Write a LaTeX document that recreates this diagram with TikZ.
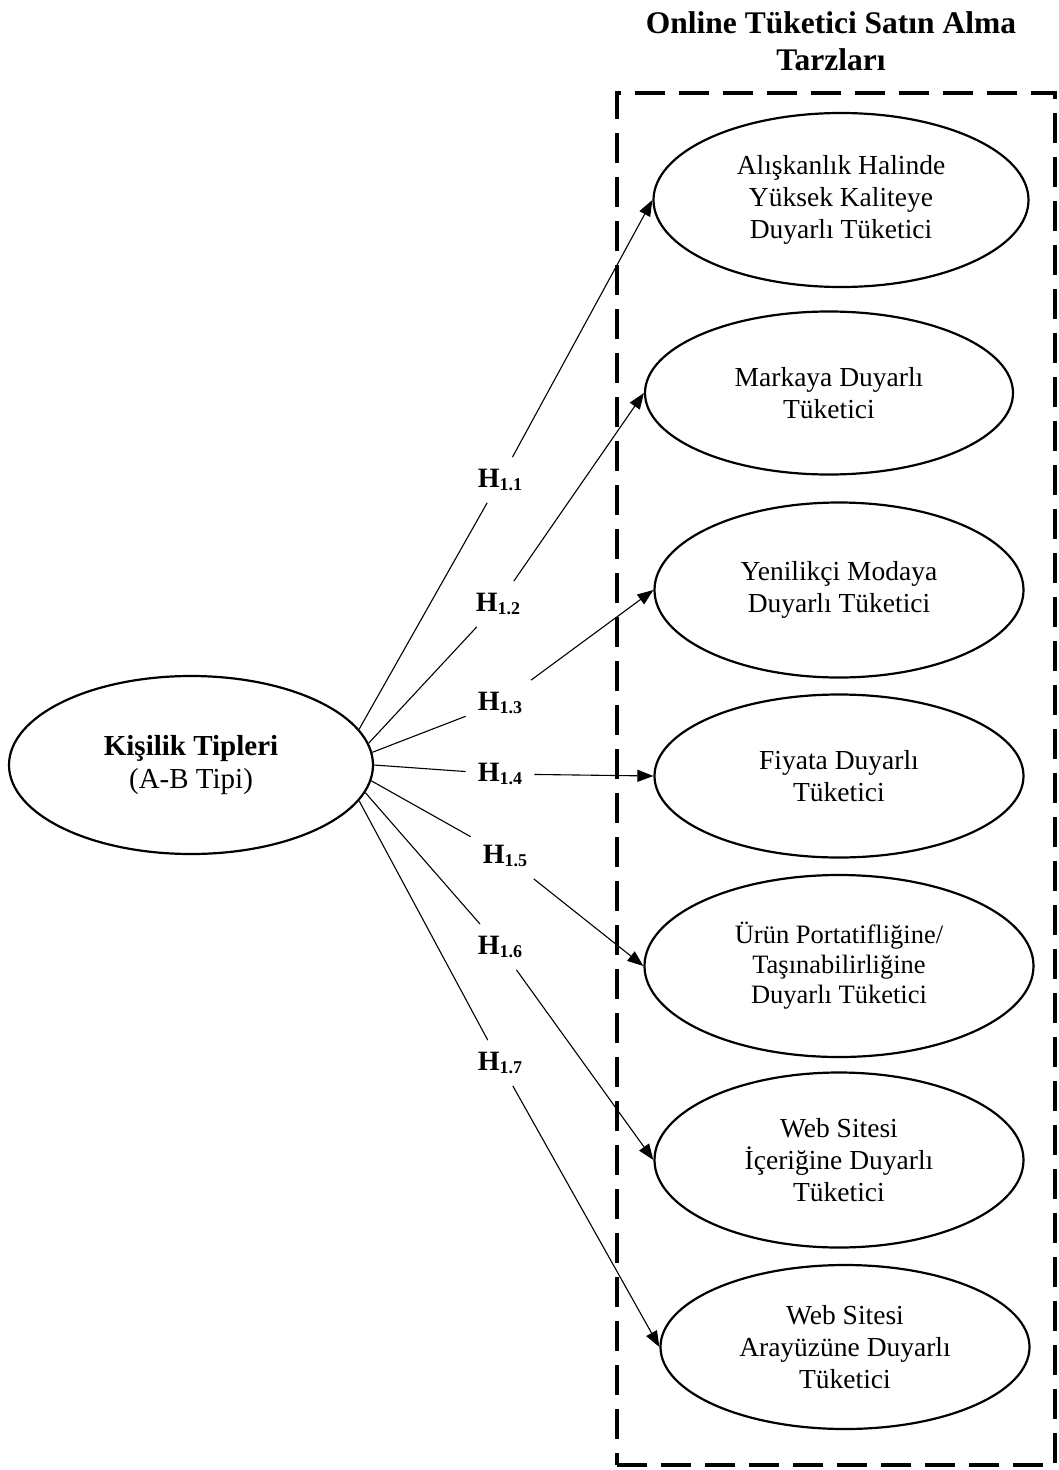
\documentclass[tikz,border=0pt]{standalone}
\usepackage{fontspec}
\setmainfont{Liberation Serif}
\usetikzlibrary{arrows.meta,shapes.geometric}
\newcommand{\hyplab}[1]{\textbf{H\raisebox{-0.1em}{\fontsize{18}{18}\selectfont #1}}}

\begin{document}
\begin{tikzpicture}[
 x=1pt,y=-1pt,
 src/.style={draw,ellipse,line width=2.2pt,inner sep=0pt,minimum width=364pt,minimum height=178pt,align=center,font=\fontsize{29}{33}\selectfont},
 tgt/.style={draw,ellipse,line width=2.2pt,inner sep=0pt,minimum width=369pt,minimum height=170pt,align=center,font=\fontsize{27.5}{32}\selectfont},
 hyp/.style={inner sep=12pt,font=\fontsize{28}{30}\selectfont},
 grp/.style={draw,dash pattern=on 30pt off 14pt,line width=4pt,minimum width=438pt,minimum height=1372pt},
 ln/.style={line width=1.1pt},
 a/.style={-{Triangle[length=16pt,width=12pt]},line width=1.1pt}
]
\useasboundingbox (0,0) rectangle (1059,1470);
\node[align=center,font=\bfseries\fontsize{31.5}{37}\selectfont] (ttl) at (831,41) {Online Tüketici Satın Alma\\Tarzları};
\node[grp] (grp) at (836,779) {};
\node[src] (k) at (191,765) {\textbf{Kişilik Tipleri}\\(A-B Tipi)};
\node[tgt,minimum width=375pt,minimum height=174pt] (t1) at (841,200) {Alışkanlık Halinde\\Yüksek Kaliteye\\Duyarlı Tüketici};
\node[tgt,minimum width=368pt,minimum height=163pt] (t2) at (829,393) {Markaya Duyarlı\\Tüketici};
\node[tgt,minimum height=175pt] (t3) at (839,590) {Yenilikçi Modaya\\Duyarlı Tüketici};
\node[tgt,minimum height=163pt] (t4) at (839,776) {Fiyata Duyarlı\\Tüketici};
\node[tgt,minimum width=389pt,minimum height=182pt,font=\fontsize{26.5}{30}\selectfont] (t5) at (839,966) {Ürün Portatifliğine/\\Taşınabilirliğine\\Duyarlı Tüketici};
\node[tgt,minimum height=175pt] (t6) at (839,1160) {Web Sitesi\\İçeriğine Duyarlı\\Tüketici};
\node[tgt,minimum height=164pt] (t7) at (845,1347) {Web Sitesi\\Arayüzüne Duyarlı\\Tüketici};
\node[hyp] (h11) at (500,480) {\hyplab{1.1}};
\node[hyp] (h12) at (498,604) {\hyplab{1.2}};
\node[hyp] (h13) at (500,703) {\hyplab{1.3}};
\node[hyp] (h14) at (500,774) {\hyplab{1.4}};
\node[hyp] (h15) at (505,856) {\hyplab{1.5}};
\node[hyp] (h16) at (500,947) {\hyplab{1.6}};
\node[hyp] (h17) at (500,1063) {\hyplab{1.7}};
\draw[ln] (k.12)--(h11);\draw[a] (h11)--(t1.west);
\draw[ln] (k.7)--(h12);\draw[a] (h12)--(t2.west);
\draw[ln] (k.4)--(h13);\draw[a] (h13)--(t3.west);
\draw[ln] (k.0)--(h14);\draw[a] (h14)--(t4.west);
\draw[ln] (k.-5)--(h15);\draw[a] (h15)--(t5.west);
\draw[ln] (k.-9)--(h16);\draw[a] (h16)--(t6.west);
\draw[ln] (k.-12)--(h17);\draw[a] (h17)--(t7.west);
\end{tikzpicture}
\end{document}
